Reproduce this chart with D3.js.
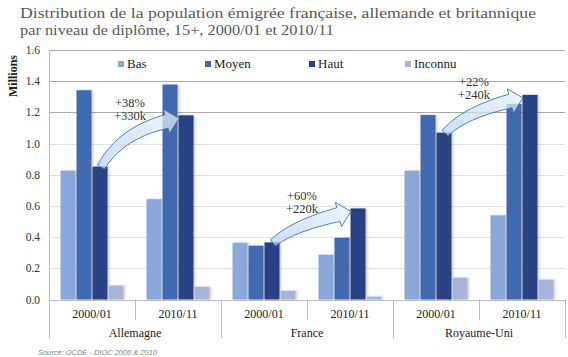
<!DOCTYPE html>
<html><head><meta charset="utf-8">
<script src="https://cdn.jsdelivr.net/npm/d3@7"></script>
<style>
html,body{margin:0;padding:0;background:#fff;}
svg{display:block;}
</style></head>
<body>
<script>
// ---- data ----
const countries = ["Allemagne", "France", "Royaume-Uni"];
const periods = ["2000/01", "2010/11"];
const series = ["Bas", "Moyen", "Haut", "Inconnu"];
// values in millions, order: Allemagne 2000/01, 2010/11, France 2000/01, 2010/11, Royaume-Uni 2000/01, 2010/11
const bas     = [0.826, 0.643, 0.364, 0.287, 0.826, 0.540];
const moyen   = [1.342, 1.378, 0.345, 0.396, 1.183, 1.254];
const haut    = [0.852, 1.181, 0.366, 0.584, 1.070, 1.312];
const inconnu = [0.089, 0.082, 0.056, 0.018, 0.140, 0.127];
const yTicks = [0, 0.2, 0.4, 0.6, 0.8, 1.0, 1.2, 1.4, 1.6];
const growthPct = ["+38%", "+60%", "+22%"];
const growthAbs = ["+330k", "+220k", "+240k"];
const titleLines = ["Distribution de la population émigrée française, allemande et britannique",
                    "par niveau de diplôme, 15+, 2000/01 et 2010/11"];
const sourceText = "Source:  OCDE - DIOC 2000 & 2010";

// ---- layout ----
const W = 568, H = 357;
const SERIF = "'Liberation Serif', 'DejaVu Serif', 'Times New Roman', Times, serif";
const colors = {"Bas":"#8aa9db","Moyen":"#4169b0","Haut":"#2a4283","Inconnu":"#a8b3d8"};
const legendX = [118, 205, 309, 405];

const svg = d3.select("body").append("svg").attr("width", W).attr("height", H)
  .attr("font-family", SERIF).style("font-family", SERIF);
const defs = svg.append("defs");
const shadow = defs.append("filter").attr("id","shd").attr("x","-20%").attr("y","-5%").attr("width","150%").attr("height","110%");
shadow.append("feDropShadow").attr("dx",1.5).attr("dy",0).attr("stdDeviation",0.8).attr("flood-color","#000").attr("flood-opacity",0.22);
const grad = defs.append("linearGradient").attr("id","arrowGrad").attr("x1","0").attr("y1","1").attr("x2","1").attr("y2","0");
grad.append("stop").attr("offset","0%").attr("stop-color","#b4d0ee");
grad.append("stop").attr("offset","100%").attr("stop-color","#eaf4fc");

// title
svg.append("g").selectAll("text").data(titleLines).join("text")
  .attr("x", 20).attr("y", (d,i) => 18 + i*16.5)
  .attr("font-size", 15.5).attr("fill", "#595959")
  .attr("textLength", (d,i) => i === 0 ? 516 : 314).attr("lengthAdjust","spacingAndGlyphs")
  .text(d => d);

const x0Left = 49, x0Right = 565;
const y = d3.scaleLinear().domain([0, 1.6]).range([299.5, 50]);

const groups = [];
countries.forEach(c => periods.forEach(p => groups.push({c, p, key: c + "|" + p})));
const x0 = d3.scaleBand().domain(groups.map(g => g.key)).range([x0Left, x0Right])
  .paddingInner(0.256).paddingOuter(0.128);
const x1 = d3.scaleBand().domain(series).range([0, x0.bandwidth()]).padding(0);
const step = x0.step();

// gridlines
svg.append("g").selectAll("line").data(yTicks.filter(t => t > 0)).join("line")
  .attr("x1", x0Left).attr("x2", x0Right)
  .attr("y1", d => Math.round(y(d)) + 0.5).attr("y2", d => Math.round(y(d)) + 0.5)
  .attr("stroke", d => d >= 1.2 ? "#a9a9ad" : "#e2e2e2").attr("stroke-width", 1);

// y tick labels
svg.append("g").selectAll("text").data(yTicks).join("text")
  .attr("x", 40).attr("y", d => y(d)).attr("dy", "0.35em")
  .attr("text-anchor", "end").attr("font-size", 11.5).attr("fill", "#333")
  .text(d => d3.format(".1f")(d));

// Millions label
svg.append("text").attr("transform", "translate(17,76) rotate(-90)")
  .attr("text-anchor", "middle").attr("font-size", 12).attr("font-weight", "bold").attr("fill", "#222")
  .text("Millions");

// bars
const valueSets = {"Bas": bas, "Moyen": moyen, "Haut": haut, "Inconnu": inconnu};
const barData = [];
groups.forEach((g, gi) => series.forEach(s => barData.push({g, s, v: valueSets[s][gi]})));
svg.append("g").attr("filter", "url(#shd)").selectAll("rect").data(barData).join("rect")
  .attr("x", d => x0(d.g.key) + x1(d.s) + 0.5)
  .attr("width", x1.bandwidth() - 1)
  .attr("y", d => y(d.v))
  .attr("height", d => y(0) - y(d.v))
  .attr("fill", d => colors[d.s]);

// axes lines
const axisG = svg.append("g").attr("stroke", "#bdbdbd").attr("stroke-width", 1);
axisG.append("line").attr("x1", x0Left + 0.5).attr("x2", x0Left + 0.5).attr("y1", y(1.6)).attr("y2", 338);
axisG.append("line").attr("x1", x0Left).attr("x2", x0Right).attr("y1", Math.round(y(0)) + 0.5).attr("y2", Math.round(y(0)) + 0.5);
d3.range(1, groups.length + 1).forEach(i => {
  const xx = Math.round(x0Left + i * step) + 0.5;
  const long = (i % periods.length === 0);
  axisG.append("line").attr("x1", xx).attr("x2", xx).attr("y1", y(0)).attr("y2", long ? 338 : 320);
});

// category labels
svg.append("g").selectAll("text").data(groups).join("text")
  .attr("x", d => x0(d.key) + x0.bandwidth() / 2).attr("y", 318)
  .attr("text-anchor", "middle").attr("font-size", 12).attr("fill", "#222")
  .text(d => d.p);
svg.append("g").selectAll("text").data(countries).join("text")
  .attr("x", (d, i) => x0Left + (i + 0.5) * step * periods.length).attr("y", 337)
  .attr("text-anchor", "middle").attr("font-size", 12).attr("fill", "#222")
  .text(d => d);

// legend
const leg = svg.append("g").selectAll("g").data(series).join("g")
  .attr("transform", (d, i) => `translate(${legendX[i]},61)`);
leg.append("rect").attr("width", 6).attr("height", 6).attr("fill", d => colors[d]);
leg.append("text").attr("x", 9).attr("y", 6.5).attr("font-size", 13).attr("fill", "#1a1a1a").text(d => d);

// arrows
function arrowPath(S, T) {
  const hl = 13, hw = 12.5, nw = 7, bw = 4;
  let dir = [1, -0.25];
  const dl = Math.hypot(dir[0], dir[1]); dir = [dir[0] / dl, dir[1] / dl];
  const N = [T[0] - dir[0] * hl, T[1] - dir[1] * hl];
  const k = 0.72 * (N[0] - S[0]);
  const C = [N[0] - dir[0] * k, N[1] - dir[1] * k];
  const up = [], lo = [];
  const n = 24;
  for (let i = 0; i <= n; i++) {
    const t = i / n;
    const px = (1 - t) * (1 - t) * S[0] + 2 * (1 - t) * t * C[0] + t * t * N[0];
    const py = (1 - t) * (1 - t) * S[1] + 2 * (1 - t) * t * C[1] + t * t * N[1];
    let tx = 2 * (1 - t) * (C[0] - S[0]) + 2 * t * (N[0] - C[0]);
    let ty = 2 * (1 - t) * (C[1] - S[1]) + 2 * t * (N[1] - C[1]);
    const tl = Math.hypot(tx, ty); tx /= tl; ty /= tl;
    const nx = ty, ny = -tx;
    const w = bw + (nw - bw) * t;
    up.push([px + nx * w, py + ny * w]);
    lo.push([px - nx * w, py - ny * w]);
  }
  const nrm = [dir[1], -dir[0]];
  const headUp = [N[0] + nrm[0] * hw, N[1] + nrm[1] * hw];
  const headLo = [N[0] - nrm[0] * hw, N[1] - nrm[1] * hw];
  const pts = [...up, headUp, T, headLo, ...lo.reverse()];
  return "M" + pts.map(p => p[0].toFixed(2) + "," + p[1].toFixed(2)).join("L") + "Z";
}

const ann = svg.append("g");
countries.forEach((c, ci) => {
  const g0 = groups[ci * 2].key, g1 = groups[ci * 2 + 1].key;
  const v0 = haut[ci * 2], v1 = haut[ci * 2 + 1];
  const S = [x0(g0) + x1("Haut") + x1.bandwidth() / 2 + 1, y(v0) + 0.5];
  const T = [x0(g1) + x1("Haut") + 1, y(v1) + 3];
  ann.append("path").attr("d", arrowPath(S, T))
    .attr("fill", "url(#arrowGrad)").attr("fill-opacity", 0.72)
    .attr("stroke", "#4a6fa5").attr("stroke-width", 0.9).attr("stroke-linejoin", "miter");
  const cx = (S[0] + T[0]) / 2 - 10;
  ann.append("text").attr("x", cx).attr("y", T[1] - 16).attr("dy", "0.35em")
    .attr("text-anchor", "middle").attr("font-size", 12.5).attr("fill", "#333").text(growthPct[ci]);
  ann.append("text").attr("x", cx).attr("y", T[1] - 3).attr("dy", "0.35em")
    .attr("text-anchor", "middle").attr("font-size", 12.5).attr("fill", "#333").text(growthAbs[ci]);
});

// source
svg.append("text").attr("x", 38).attr("y", 355)
  .attr("font-family", "'Liberation Sans', Arial, sans-serif").style("font-family", "'Liberation Sans', Arial, sans-serif")
  .attr("font-style", "italic")
  .attr("font-size", 8).attr("fill", "#7f7f7f")
  .attr("textLength", 119).attr("lengthAdjust", "spacingAndGlyphs")
  .text(sourceText);
</script>
</body></html>
